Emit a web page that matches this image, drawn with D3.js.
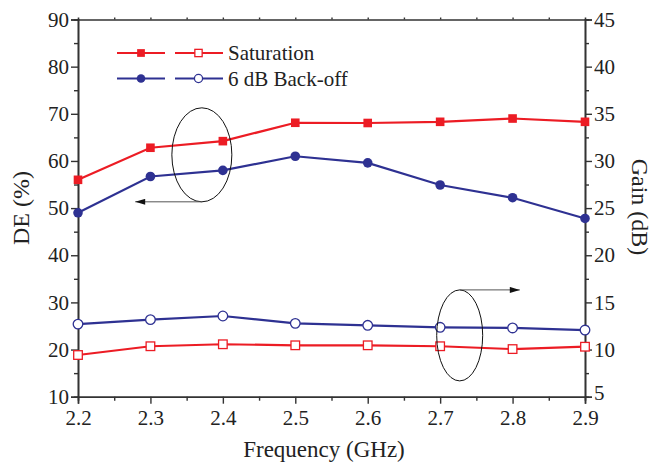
<!DOCTYPE html>
<html>
<head>
<meta charset="utf-8">
<script src="https://cdn.jsdelivr.net/npm/d3@7"></script>
<style>
  svg, svg text { font-family: "Liberation Serif", "Times New Roman", serif !important; }
</style>
</head>
<body style="margin:0">
<div class="chart"></div>
<script>
const freq = [2.2, 2.3, 2.4, 2.5, 2.6, 2.7, 2.8, 2.9]
const deSat = [56.0, 62.8, 64.2, 68.1, 68.05, 68.3, 69.0, 68.3]
const deBack = [49.0, 56.7, 58.0, 61.0, 59.6, 54.9, 52.2, 47.8]
const gainSat = [9.42, 10.35, 10.56, 10.45, 10.45, 10.35, 10.05, 10.3]
const gainBack = [12.7, 13.17, 13.56, 12.78, 12.57, 12.36, 12.29, 12.07]
const xTicks = [2.2, 2.3, 2.4, 2.5, 2.6, 2.7, 2.8, 2.9]
const deTicks = [10, 20, 30, 40, 50, 60, 70, 80, 90]
const gainTicks = [5, 10, 15, 20, 25, 30, 35, 40, 45]
const legendNames = ["Saturation", "6 dB Back-off"]

const width = 658, height = 464
const red = "#ec1c24", blue = "#2e3192", axisColor = "#333"
const fontFam = "Liberation Serif"

const svg = d3.select(".chart").append("svg")
    .attr("width", width)
    .attr("height", height)
    .attr("font-family", fontFam)

const x = d3.scaleLinear().domain([2.2, 2.9]).range([78, 585])
const yL = d3.scaleLinear().domain([10, 90]).range([396.7, 19.5])
const yR = d3.scaleLinear().domain([5, 45]).range([396.7, 19.5])

// axes
const styleAxis = g => {
    g.attr("font-family", fontFam).attr("font-size", 21)
    g.select(".domain").attr("stroke", axisColor).attr("stroke-width", 1.6)
    g.selectAll(".tick line").attr("stroke", axisColor).attr("stroke-width", 1.4)
    g.selectAll("text").attr("font-family", fontFam).attr("font-size", 21).attr("fill", "#222")
}
const minor = (lo, hi, step) => d3.range(lo, hi + 1e-9, step)

svg.append("g").attr("transform", "translate(0,396.7)")
    .call(d3.axisBottom(x).tickValues(minor(2.25, 2.85, 0.1)).tickSize(4).tickFormat(""))
    .call(styleAxis)
svg.append("g").attr("transform", "translate(0,396.7)")
    .call(d3.axisBottom(x).tickValues(xTicks).tickSize(7).tickPadding(6).tickFormat(d3.format(".1f")))
    .call(styleAxis)
svg.append("g").attr("transform", "translate(0,19.5)")
    .call(d3.axisTop(x).tickValues(minor(2.25, 2.85, 0.05)).tickSize(2).tickFormat(""))
    .call(styleAxis)
svg.append("g").attr("transform", "translate(78,0)")
    .call(d3.axisLeft(yL).tickValues(minor(15, 85, 10)).tickSize(4).tickFormat(""))
    .call(styleAxis)
svg.append("g").attr("transform", "translate(78,0)")
    .call(d3.axisLeft(yL).tickValues(deTicks).tickSize(7).tickPadding(2))
    .call(styleAxis)
svg.append("g").attr("transform", "translate(585,0)")
    .call(d3.axisRight(yR).tickValues(minor(7.5, 42.5, 5)).tickSize(4).tickFormat(""))
    .call(styleAxis)
svg.append("g").attr("transform", "translate(585,0)")
    .call(d3.axisRight(yR).tickValues(gainTicks).tickSize(7).tickPadding(2))
    .call(styleAxis)
    .call(g => g.selectAll(".tick text").filter(d => d === 5).attr("dy", "0.15em"))

// axis titles
const title = (t, size) => t.attr("font-family", fontFam).attr("font-size", size)
    .attr("fill", "#222").attr("text-anchor", "middle")
svg.append("text").attr("x", 324).attr("y", 457).text("Frequency (GHz)").call(title, 23)
svg.append("text").attr("transform", "translate(29,208) rotate(-90)").text("DE (%)").call(title, 24)
svg.append("text").attr("transform", "translate(632,207) rotate(90)").text("Gain (dB)").call(title, 24)

// series
const series = [
    { vals: deSat, y: yL, color: red, shape: "square", filled: true },
    { vals: deBack, y: yL, color: blue, shape: "circle", filled: true },
    { vals: gainSat, y: yR, color: red, shape: "square", filled: false },
    { vals: gainBack, y: yR, color: blue, shape: "circle", filled: false }
]

const drawMarker = (g, cx, cy, s, k = 1) => {
    if (s.shape === "square") {
        const h = 4.3 * k
        g.append("rect").attr("x", cx - h).attr("y", cy - h)
            .attr("width", 2 * h).attr("height", 2 * h)
            .attr("fill", s.filled ? s.color : "#fff")
            .attr("stroke", s.color).attr("stroke-width", s.filled ? 0 : 1.3)
    } else {
        g.append("circle").attr("cx", cx).attr("cy", cy).attr("r", 4.8 * k)
            .attr("fill", s.filled ? s.color : "#fff")
            .attr("stroke", s.color).attr("stroke-width", s.filled ? 0 : 1.3)
    }
}

series.forEach(s => {
    const line = d3.line().x((d, i) => x(freq[i])).y(d => s.y(d))
    svg.append("path").datum(s.vals)
        .attr("d", line).attr("fill", "none")
        .attr("stroke", s.color).attr("stroke-width", 2.2)
    const g = svg.append("g")
    s.vals.forEach((d, i) => drawMarker(g, x(freq[i]), s.y(d), s))
})

// ellipses with arrows
svg.append("defs").append("marker").attr("id", "arr")
    .attr("viewBox", "0 0 10 6").attr("refX", 10).attr("refY", 3)
    .attr("markerWidth", 11).attr("markerHeight", 6).attr("markerUnits", "userSpaceOnUse")
    .attr("orient", "auto")
    .append("path").attr("d", "M0,0 L10,3 L0,6 Z").attr("fill", "#111")

svg.append("ellipse").attr("cx", x(2.371)).attr("cy", yL(61.3)).attr("rx", 30).attr("ry", 47)
    .attr("fill", "none").attr("stroke", "#111").attr("stroke-width", 1)
svg.append("line").attr("x1", x(2.371)).attr("y1", yL(61.3) + 47)
    .attr("x2", x(2.279)).attr("y2", yL(61.3) + 47)
    .attr("stroke", "#555").attr("stroke-width", 1).attr("marker-end", "url(#arr)")

svg.append("ellipse").attr("cx", x(2.727)).attr("cy", yR(11.5)).attr("rx", 23).attr("ry", 45.5)
    .attr("fill", "none").attr("stroke", "#111").attr("stroke-width", 1)
svg.append("line").attr("x1", x(2.727)).attr("y1", yR(11.5) - 45.5)
    .attr("x2", x(2.81)).attr("y2", yR(11.5) - 45.5)
    .attr("stroke", "#555").attr("stroke-width", 1).attr("marker-end", "url(#arr)")

// legend
legendNames.forEach((name, i) => {
    const cy = 53 + i * 25.5
    const s1 = series[i], s2 = series[i + 2]
    const g = svg.append("g")
    g.append("line").attr("x1", 117).attr("x2", 165).attr("y1", cy).attr("y2", cy)
        .attr("stroke", s1.color).attr("stroke-width", 2)
    g.append("line").attr("x1", 175).attr("x2", 223).attr("y1", cy).attr("y2", cy)
        .attr("stroke", s2.color).attr("stroke-width", 2)
    drawMarker(g, 141, cy, s1, 0.9)
    drawMarker(g, 198.5, cy, s2, 0.85)
    g.append("text").attr("x", 228).attr("y", cy + 7).text(name)
        .attr("font-family", fontFam).attr("font-size", 21).attr("fill", "#222")
})
</script>
</body>
</html>
